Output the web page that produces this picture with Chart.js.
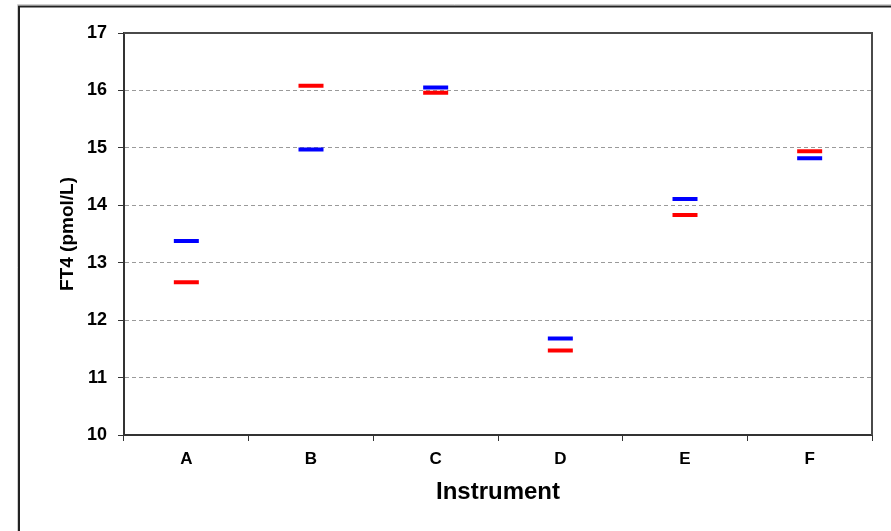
<!DOCTYPE html>
<html>
<head>
<meta charset="utf-8">
<script src="https://cdn.jsdelivr.net/npm/chart.js@4.4.1/dist/chart.umd.min.js"></script>
<style>
  html, body { margin: 0; padding: 0; background: #fff; }
  canvas { display: block; }
</style>
</head>
<body>
<canvas id="chart" width="891" height="531"></canvas>
<script>
// data
var instruments = ['A', 'B', 'C', 'D', 'E', 'F'];
var redValues  = [12.66, 16.08, 15.96, 11.47, 13.83, 14.94];
var blueValues = [13.38, 14.97, 16.05, 11.68, 14.11, 14.82];
var yMin = 10, yMax = 17, yStep = 1;

var FONT = "'Liberation Sans', Arial, sans-serif";

// outer frame plus the box round the plot area
var framePlugin = {
  id: 'frame',
  beforeDraw: function(chart){
    var ctx = chart.ctx;
    ctx.save();
    ctx.fillStyle = '#fff';
    ctx.fillRect(0, 0, chart.width, chart.height);
    ctx.strokeStyle = '#cfcfcf';
    ctx.lineWidth = 1;
    ctx.beginPath();
    ctx.moveTo(17.5, chart.height); ctx.lineTo(17.5, 4.5); ctx.lineTo(chart.width, 4.5);
    ctx.stroke();
    ctx.strokeStyle = '#222';
    ctx.lineWidth = 2;
    ctx.beginPath();
    ctx.moveTo(19, chart.height); ctx.lineTo(19, 6.5); ctx.lineTo(chart.width, 6.5);
    ctx.stroke();
    ctx.restore();
  },
  afterDatasetsDraw: function(chart){
    var a = chart.chartArea, ctx = chart.ctx;
    ctx.save();
    ctx.strokeStyle = '#4a4a4a';
    ctx.lineWidth = 2;
    ctx.beginPath();
    ctx.moveTo(a.left, a.top); ctx.lineTo(a.right, a.top); ctx.lineTo(a.right, a.bottom);
    ctx.stroke();
    ctx.restore();
  }
};

function series(values, colour){
  return {
    data: values,
    showLine: false,
    pointStyle: 'line',
    pointRadius: 12.5,
    pointHoverRadius: 12.5,
    pointBorderWidth: 4,
    pointBorderColor: colour,
    pointBackgroundColor: colour,
    borderColor: colour
  };
}

new Chart(document.getElementById('chart').getContext('2d'), {
  type: 'line',
  data: {
    labels: instruments,
    datasets: [series(redValues, '#ff0000'), series(blueValues, '#0000ff')]
  },
  options: {
    responsive: false,
    animation: false,
    layout: { padding: { left: 20, right: 19, top: 33, bottom: 0 } },
    plugins: { legend: { display: false }, tooltip: { enabled: false } },
    scales: {
      x: {
        offset: true,
        grid: { display: true, drawOnChartArea: false, offset: true, tickLength: 6, color: '#333' },
        border: { color: '#333', width: 2 },
        ticks: { color: '#000', padding: 8, font: { family: FONT, size: 17, weight: 'bold' } },
        title: { display: true, text: 'Instrument', color: '#000', padding: { top: 4, bottom: 24 },
                 font: { family: FONT, size: 24, weight: 'bold' } },
        afterFit: function(s){ s.height = 96; }
      },
      y: {
        min: yMin, max: yMax,
        ticks: { stepSize: yStep, color: '#000', padding: 11, font: { family: FONT, size: 18, weight: 'bold' } },
        grid: { color: '#9a9a9a', lineWidth: 1, tickLength: 6, tickColor: '#333', tickBorderDash: [] },
        border: { color: '#333', width: 2, dash: [4, 3] },
        title: { display: true, text: 'FT4 (pmol/L)', color: '#000', padding: { top: 36, bottom: 4 },
                 font: { family: FONT, size: 19, weight: 'bold' } },
        afterFit: function(s){ s.width = 104; }
      }
    }
  },
  plugins: [framePlugin]
});
</script>
</body>
</html>
